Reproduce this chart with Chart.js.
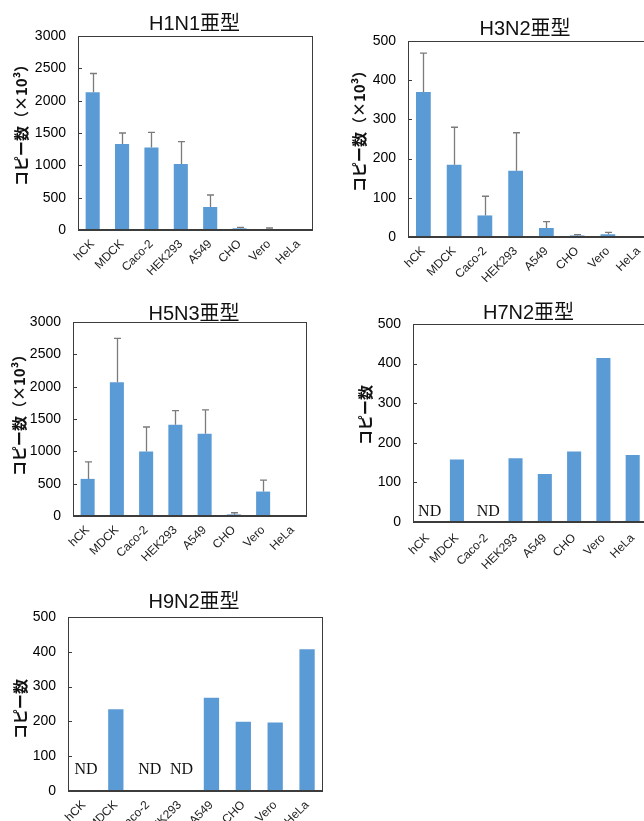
<!DOCTYPE html>
<html><head><meta charset="utf-8">
<script src="https://cdn.jsdelivr.net/npm/chart.js@4/dist/chart.umd.min.js"></script>
<style>
html,body{margin:0;padding:0;background:#fff;overflow:hidden;width:644px;height:821px;position:relative;}
canvas{position:absolute;}
</style></head><body>
<canvas id="c1" width="318" height="282" style="left:0;top:0"></canvas>
<canvas id="c2" width="326" height="282" style="left:330px;top:0"></canvas>
<canvas id="c3" width="312" height="280" style="left:0;top:290px"></canvas>
<canvas id="c4" width="322" height="282" style="left:330px;top:290px"></canvas>
<canvas id="c5" width="326" height="243" style="left:0;top:578px"></canvas>
<script>
// ---- data ----
const cellLines = ['hCK','MDCK','Caco-2','HEK293','A549','CHO','Vero','HeLa'];
const h1n1Title = 'H1N1亜型';
const h1n1Values = [2130,1330,1275,1020,356,26,10,3];
const h1n1Errors = [290,170,235,346,185,16,21,0];
const h3n2Title = 'H3N2亜型';
const h3n2Values = [370,184,55,169,23,4,7,0];
const h3n2Errors = [99,96,49,97,16,2,5,0];
const h5n3Title = 'H5N3亜型';
const h5n3Values = [574,2069,999,1412,1272,25,378,0];
const h5n3Errors = [264,677,377,217,368,25,176,0];
const h7n2Title = 'H7N2亜型';
const h7n2Values = [null,158,null,161,121,178,414,169];   // null = ND
const h9n2Title = 'H9N2亜型';
const h9n2Values = [null,235,null,null,268,199,197,407];  // null = ND
const axisTitleScaled = 'コピー数（×10³）';
const axisTitlePlain = 'コピー数';
const ndLabel = 'ND';
const yMaxLarge = 3000, yStepLarge = 500;
const yMaxSmall = 500, yStepSmall = 100;

// ---- plugins ----
const decorPlugin = {
  id: 'decor',
  afterDraw(chart, args, o) {
    const {ctx, chartArea: a, scales} = chart;
    const y = scales.y, x = scales.x;
    ctx.save();
    // frame
    ctx.strokeStyle = '#3c3c3c';
    ctx.lineWidth = 1;
    ctx.strokeRect(Math.round(a.left) + 0.5, Math.round(a.top) + 0.5, Math.round(a.right - a.left) - 1, Math.round(a.bottom - a.top));
    ctx.lineWidth = 2;
    ctx.beginPath(); ctx.moveTo(a.left, Math.round(a.bottom)); ctx.lineTo(a.right, Math.round(a.bottom)); ctx.stroke();
    // inward ticks
    ctx.lineWidth = 1;
    y.ticks.forEach((t, i) => {
      const py = Math.round(y.getPixelForTick(i)) + 0.5;
      ctx.beginPath(); ctx.moveTo(a.left, py); ctx.lineTo(a.left + 4, py); ctx.stroke();
    });
    // error bars
    const ds = chart.data.datasets[0];
    const errs = o.errors;
    if (errs) {
      const meta = chart.getDatasetMeta(0);
      ctx.strokeStyle = '#7b7b7b';
      ctx.lineWidth = 1.3;
      meta.data.forEach((bar, i) => {
        const v = ds.data[i];
        if (v == null || !errs[i]) return;
        const px = Math.round(bar.x) + 0.5;
        const top = y.getPixelForValue(v + errs[i]);
        const bot = y.getPixelForValue(v);
        ctx.beginPath();
        ctx.moveTo(px, bot); ctx.lineTo(px, top);
        ctx.moveTo(px - 3.5, top); ctx.lineTo(px + 3.5, top);
        ctx.stroke();
      });
    }
    // ND labels
    ctx.fillStyle = '#111';
    ctx.font = '16px "Liberation Serif", "Times New Roman", serif';
    ctx.textAlign = 'center';
    ctx.textBaseline = 'bottom';
    ds.data.forEach((v, i) => {
      if (v == null) ctx.fillText(ndLabel, x.getPixelForValue(i) + 2, a.bottom - o.ndGap);
    });
    // chart title
    ctx.fillStyle = '#111';
    ctx.font = '20px "Liberation Sans", "Noto Sans CJK JP", sans-serif';
    ctx.textBaseline = 'middle';
    ctx.fillText(o.title, o.titleX, o.titleY);
    // y axis title (rotated)
    ctx.translate(o.yTitleX, o.yTitleY);
    ctx.rotate(-Math.PI / 2);
    ctx.font = 'bold 15px "Noto Sans CJK JP", sans-serif';
    ctx.fillText(o.yTitle, 0, 0);
    ctx.restore();
  }
};

function makeChart(id, values, errors, yMax, yStep, axisTitle, L) {
  return new Chart(document.getElementById(id), {
    type: 'bar',
    data: {
      labels: cellLines,
      datasets: [{ data: values, backgroundColor: '#5b9bd5', borderWidth: 0,
                   categoryPercentage: 1, barPercentage: 0.48 }]
    },
    options: {
      responsive: false, animation: false, devicePixelRatio: 1,
      layout: { padding: { top: L.padTop, right: L.padRight, left: 0, bottom: 0 } },
      plugins: {
        legend: { display: false }, tooltip: { enabled: false }, title: { display: false },
        decor: { errors: errors, ndGap: L.ndGap, title: L.title, titleX: L.titleX, titleY: L.titleY,
                 yTitle: axisTitle, yTitleX: L.yTitleX, yTitleY: L.yTitleY }
      },
      scales: {
        x: {
          grid: { display: false, drawTicks: false }, border: { display: false },
          ticks: { autoSkip: false, minRotation: 45, maxRotation: 45, padding: L.xPad,
                   color: '#222', font: { family: '"Liberation Sans", Arial, sans-serif', size: 12 } },
          afterFit(s) { s.height = L.xH; }
        },
        y: {
          min: 0, max: yMax,
          grid: { display: false, drawTicks: false }, border: { display: false },
          ticks: { stepSize: yStep, padding: 12, color: '#000', format: { useGrouping: false },
                   font: { family: '"Liberation Sans", Arial, sans-serif', size: 14 } },
          afterFit(s) { s.width = L.yW; }
        }
      }
    },
    plugins: [decorPlugin]
  });
}

makeChart('c1', h1n1Values, h1n1Errors, yMaxLarge, yStepLarge, axisTitleScaled,
  { padTop: 36, padRight: 5, yW: 78, xH: 52, xPad: 7, ndGap: 2, title: h1n1Title, titleX: 194.5, titleY: 24, yTitleX: 21, yTitleY: 121.5 });
makeChart('c2', h3n2Values, h3n2Errors, yMaxSmall, yStepSmall, axisTitleScaled,
  { padTop: 41, padRight: 2, yW: 78, xH: 45, xPad: 7, ndGap: 2, title: h3n2Title, titleX: 195, titleY: 29, yTitleX: 29.5, yTitleY: 127.5 });
makeChart('c3', h5n3Values, h5n3Errors, yMaxLarge, yStepLarge, axisTitleScaled,
  { padTop: 32, padRight: 5, yW: 73, xH: 54, xPad: 7, ndGap: 2, title: h5n3Title, titleX: 194, titleY: 24, yTitleX: 19, yTitleY: 121.5 });
makeChart('c4', h7n2Values, null, yMaxSmall, yStepSmall, axisTitlePlain,
  { padTop: 34, padRight: 2, yW: 83, xH: 50, xPad: 9, ndGap: 2, title: h7n2Title, titleX: 198.5, titleY: 23, yTitleX: 35.5, yTitleY: 125 });
makeChart('c5', h9n2Values, null, yMaxSmall, yStepSmall, axisTitlePlain,
  { padTop: 39, padRight: 3, yW: 68, xH: 30, xPad: 7, ndGap: 13, title: h9n2Title, titleX: 194, titleY: 24.5, yTitleX: 20, yTitleY: 131 });
</script>
</body></html>
